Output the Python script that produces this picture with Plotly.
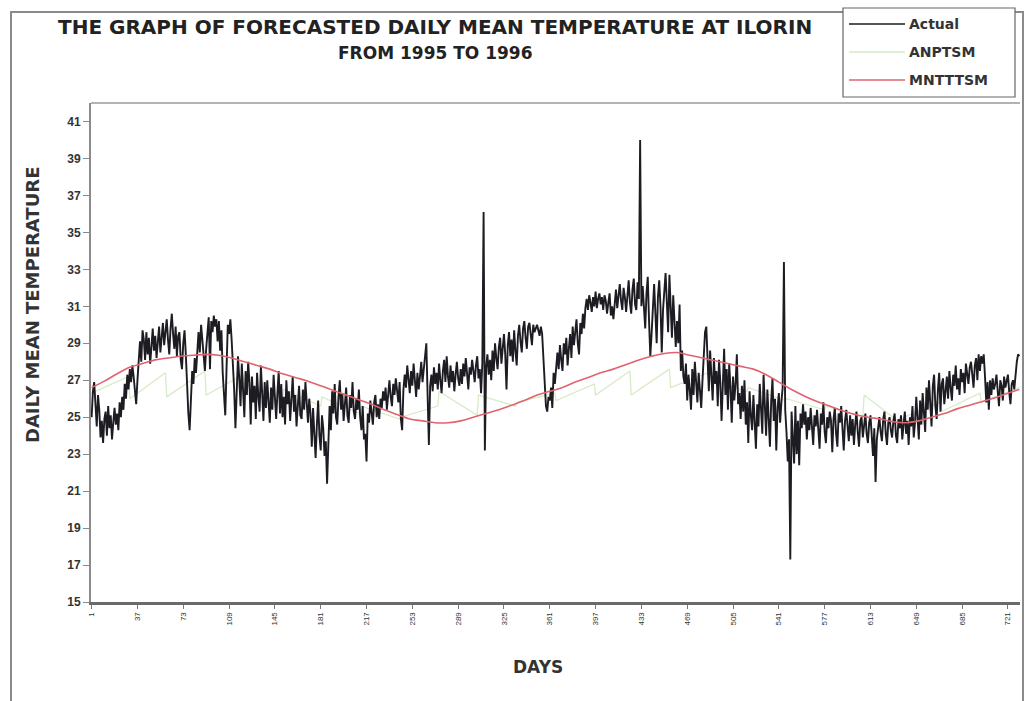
import plotly.graph_objects as go

# Observed daily mean temperature at Ilorin, days 1..730 (1995-1996)
actual = [
    25.0, 26.4, 26.9, 25.8, 24.5, 26.2, 25.4, 23.9, 24.8, 23.6,
    24.9, 25.3, 24.0, 25.6, 24.4, 25.1, 23.8, 24.7, 25.5, 24.6,
    25.2, 24.3, 25.8, 25.0, 26.1, 25.4, 26.8, 26.0, 27.3, 26.5,
    27.6, 26.9, 27.8, 27.2, 26.4, 25.7, 27.0, 28.3, 29.1, 28.0,
    29.7, 29.2, 28.1, 29.6, 28.4, 29.3, 27.9, 28.8, 29.8, 28.6,
    29.4, 28.2, 29.0, 29.9, 28.5, 29.6, 30.1, 28.9, 29.5, 30.3,
    29.2, 28.4, 29.8, 30.6, 29.5, 28.7, 29.9, 28.3, 29.4, 29.6,
    28.1, 27.6, 29.0, 29.7, 28.4, 26.5, 25.2, 24.3, 26.0, 27.5,
    26.8, 28.2, 27.4, 28.9, 29.6, 28.5, 30.0, 29.2, 28.0, 27.5,
    28.7, 29.8, 30.4, 27.6, 30.2, 29.6, 30.5, 29.9, 30.3, 29.1,
    30.2, 28.6, 29.7, 27.4, 25.8, 25.1, 27.6, 30.0, 29.5, 30.3,
    29.2, 28.0, 26.5, 24.4, 26.8, 28.3, 27.1, 25.6, 27.9, 26.4,
    25.0, 27.5, 26.2, 28.0, 26.9, 24.6, 27.2, 25.8, 26.7, 24.9,
    27.4, 26.1, 25.3, 27.8, 26.5, 24.8, 26.9, 25.5, 27.0, 26.0,
    24.7, 26.6, 25.4, 27.3, 25.9, 24.9, 26.3, 27.5, 25.2, 26.8,
    25.0, 26.1, 24.6, 27.0, 25.7, 26.4, 24.8, 25.9, 27.2, 25.3,
    26.2, 24.5, 25.8, 26.7, 25.1, 24.9, 26.5, 25.4, 26.9, 25.6,
    24.7, 26.0, 25.2, 23.4, 25.5, 24.1, 22.8, 24.6, 25.9, 24.0,
    23.2, 25.1, 24.4, 22.9, 23.7, 21.4, 23.5, 25.6, 24.3, 26.4,
    25.2, 26.8, 25.0, 24.6, 26.1, 27.0, 25.4, 26.3, 24.8, 25.7,
    26.6, 25.1, 24.7, 26.2, 25.5, 26.9, 25.3, 24.9, 26.0, 25.4,
    26.5, 25.0, 24.3, 25.6, 23.8, 24.1, 22.6, 25.2, 24.7, 25.9,
    25.3, 24.6, 25.8, 26.2, 25.0, 25.7, 24.9, 26.0, 25.5, 26.4,
    25.9, 26.6, 25.4, 26.3, 27.0, 26.1, 25.6, 26.8, 26.2, 27.1,
    26.4, 25.8, 26.9, 24.9, 24.3, 26.5, 27.3, 26.6, 27.8, 26.9,
    26.3, 27.5, 26.7, 27.9, 26.8, 26.1, 27.4, 26.5, 27.2, 28.0,
    26.9, 27.6, 28.4, 29.0, 26.2, 23.5, 26.7, 27.3, 26.4, 27.7,
    26.8, 27.4, 26.5, 27.9, 27.0, 26.3, 27.5, 28.1, 26.9, 28.3,
    27.2, 26.6, 27.8, 26.9, 27.5, 26.4, 27.3, 28.0, 27.1, 26.7,
    27.6, 26.8, 27.9, 27.2, 28.2, 27.0, 26.5, 27.7, 27.3, 28.1,
    27.4, 26.9, 27.8, 28.3, 27.1, 27.6, 26.3, 27.9, 36.1, 23.2,
    27.7, 28.4, 27.3, 28.1, 27.0, 28.6, 27.5, 29.0, 28.2, 27.6,
    28.8, 29.3, 27.9, 28.7, 29.5, 28.4, 26.5, 28.9, 29.6, 28.3,
    29.2, 28.0, 29.7, 28.6, 27.8, 29.4, 30.0, 29.1, 28.5, 29.8,
    30.2, 29.3, 28.7, 29.9, 30.1, 29.5, 28.9, 30.0, 29.6, 29.8,
    30.0, 29.7, 29.4, 29.9, 29.5, 28.2, 26.7, 25.6, 25.3, 26.1,
    25.9, 26.6, 25.5, 27.4, 26.8, 27.9, 28.5, 27.6, 28.9, 28.1,
    27.5, 29.0, 28.4, 29.3, 27.8, 28.7, 29.5, 28.2, 29.9, 28.9,
    29.6, 30.3, 29.0, 28.4, 30.1, 29.5, 30.6, 29.8, 30.9, 31.4,
    30.8, 31.6, 31.2, 30.7, 31.5, 31.0, 31.8, 30.9, 31.4, 31.7,
    31.1, 31.5, 30.8, 31.6, 31.3, 30.6, 31.2, 31.7, 30.5, 31.0,
    30.3, 31.4, 31.9, 30.9, 31.6, 32.2, 31.3, 30.8, 32.0, 31.5,
    30.7, 31.8, 32.4, 31.2, 30.6, 31.9, 32.5, 31.1, 30.8, 32.3,
    31.4, 40.0, 31.0, 32.1, 30.5, 29.8, 31.7, 32.6, 30.2, 28.3,
    29.5, 31.3, 32.2, 30.6, 29.0, 31.5, 32.4, 31.0, 28.5, 30.8,
    32.0, 32.8, 31.2, 29.6, 32.7, 30.9, 29.3, 31.6, 30.4, 28.8,
    30.2, 29.0, 31.1, 27.5, 28.6, 27.2, 26.8, 27.9, 25.9, 27.3,
    26.5, 25.4, 27.6, 26.2, 28.0, 26.7, 25.8, 27.4, 26.1, 25.5,
    27.0, 28.3, 29.6, 29.9, 27.8, 26.4, 28.6, 27.1, 25.9, 28.2,
    26.8, 27.5, 25.6, 28.1, 26.9, 24.8, 27.3, 28.7, 26.2, 27.6,
    25.4, 27.9, 26.6, 24.7, 27.2, 25.9, 26.8, 28.4, 25.7, 26.3,
    24.9, 26.7, 25.3, 27.0, 24.6, 25.8, 23.6, 26.4, 25.1, 24.3,
    26.2, 25.0, 23.3, 25.7, 24.5, 26.8, 25.4, 24.1, 27.3, 25.6,
    24.0, 26.5, 25.2, 23.4, 25.9, 27.1, 24.8, 26.0, 23.2, 25.5,
    26.3, 24.7, 25.8, 26.6, 33.4, 25.4, 24.2, 22.6, 23.8, 17.3,
    25.3, 24.1, 22.5, 25.6, 23.0, 24.8, 22.4, 25.2, 24.4, 25.7,
    24.6, 25.3, 23.8, 25.0, 24.3, 25.5, 24.7, 23.5, 25.1, 24.5,
    25.4, 24.0, 23.3, 25.2, 24.6, 25.8, 24.2, 23.6, 25.0, 24.4,
    25.3, 24.8, 23.1, 24.9, 25.5, 24.1, 23.4, 25.2, 24.7, 25.6,
    24.3, 23.2, 24.8, 25.4, 24.5, 23.7, 25.1, 24.0, 24.9, 23.5,
    24.6, 25.3, 24.2, 23.4, 24.8, 25.0, 23.9, 24.5, 25.2, 24.1,
    23.6, 24.7, 25.1, 24.0, 22.9, 24.4, 21.5, 23.8, 24.6, 25.0,
    24.2, 23.7, 24.9, 25.3, 24.1, 23.5, 24.7, 25.0, 24.3, 23.9,
    24.8, 25.2, 24.0, 23.6, 24.9, 24.4, 25.1, 23.8, 24.6, 25.3,
    24.1, 24.8, 23.5, 25.0, 24.5, 25.6, 23.9, 24.7, 26.1, 25.2,
    23.8, 25.9, 24.6, 26.3, 25.0, 24.2, 26.6, 25.4, 27.0, 25.8,
    24.5, 26.7, 27.3, 25.6, 24.9, 26.5, 27.4, 25.3, 26.8, 27.1,
    25.7, 26.4, 27.2, 26.0, 27.5, 26.6, 25.9, 27.3, 26.7, 27.8,
    26.5, 27.1, 26.2, 27.6, 26.9, 27.4, 26.3, 27.9, 27.2, 26.8,
    27.7, 28.0, 27.3, 26.6, 27.8, 28.2, 27.0, 28.4, 27.5, 28.3,
    27.9, 28.4, 27.2, 25.8, 26.9, 25.4, 27.0, 26.2, 27.1, 26.5,
    26.8, 27.3, 26.4, 25.6, 27.0, 26.7, 25.9, 27.2, 26.6, 26.9,
    27.3, 26.4, 25.7, 26.8, 27.0, 26.5, 27.4, 28.0, 28.4, 28.3,
]
days = list(range(1, len(actual) + 1))

# MNTTTSM forecast, sampled every 10 days
mnt_days = list(range(1, 722, 10)) + [730]
mnt_vals = [
    26.6, 26.95, 27.35, 27.7, 27.9, 28.1, 28.2, 28.3, 28.35, 28.4,
    28.35, 28.2, 28.0, 27.8, 27.6, 27.35, 27.15, 26.95, 26.7, 26.45,
    26.2, 25.95, 25.7, 25.4, 25.15, 24.9, 24.8, 24.7, 24.7, 24.8,
    25.0, 25.2, 25.4, 25.65, 25.9, 26.2, 26.4, 26.6, 26.9, 27.15,
    27.4, 27.6, 27.85, 28.1, 28.3, 28.45, 28.5, 28.35, 28.2, 28.05,
    27.9, 27.75, 27.6, 27.3, 26.9, 26.5, 26.15, 25.85, 25.6, 25.35,
    25.15, 25.0, 24.9, 24.75, 24.7, 24.8, 25.0, 25.2, 25.45, 25.65,
    25.85, 26.05, 26.3, 26.5,
]

# ANPTSM forecast: monthly segments (start day, end day, start value, end value)
anp_start_day = [1, 31, 60, 91, 121, 152, 182, 213, 244, 274, 305, 335,
                 366, 397, 425, 456, 486, 517, 547, 578, 608, 639, 669, 700]
anp_end_day = [30, 59, 90, 120, 151, 181, 212, 243, 273, 304, 334, 365,
               396, 424, 455, 485, 516, 546, 577, 607, 638, 668, 699, 730]
anp_start_val = [26.3, 26.0, 26.1, 26.2, 26.8, 26.5, 26.1, 25.6, 25.0, 26.4, 26.2, 25.8,
                 25.9, 26.2, 26.2, 26.6, 27.0, 26.6, 26.0, 25.6, 26.2, 25.0, 25.3, 25.8]
anp_end_val = [27.2, 27.4, 27.5, 27.3, 26.0, 25.6, 25.2, 24.9, 25.6, 25.1, 25.6, 26.3,
               26.8, 27.5, 27.6, 27.4, 26.4, 25.9, 25.4, 25.0, 24.6, 25.8, 26.3, 26.6]

tick_days = list(range(1, 722, 36))
tick_text = [str(d) for d in tick_days]
y_ticks = list(range(15, 42, 2))

anp_x, anp_y = [], []
for d0, d1, v0, v1 in zip(anp_start_day, anp_end_day, anp_start_val, anp_end_val):
    anp_x += [d0, d1]
    anp_y += [v0, v1]

# Plot-area geometry in pixels, used to place frame, title and legend box
W, H = 1028, 701
L, R, T, B = 91, 1020, 103, 602


def px(x):
    return (x - L) / (R - L)


def py(y):
    return (B - y) / (B - T)


RED = "#e06470"
GREEN = "#d6ebc8"
BLACK = "#1c1c22"

fig = go.Figure()
fig.add_trace(go.Scatter(x=anp_x, y=anp_y, mode="lines", name="ANPTSM",
                         line=dict(color=GREEN, width=1.3)))
fig.add_trace(go.Scatter(x=days, y=actual, mode="lines", name="Actual",
                         line=dict(color=BLACK, width=1.9)))
fig.add_trace(go.Scatter(x=mnt_days, y=mnt_vals, mode="lines", name="MNTTTSM",
                         line=dict(color=RED, width=1.6, shape="spline")))

shapes = [
    # outer chart frame
    dict(type="rect", xref="paper", yref="paper",
         x0=px(11), x1=px(1023), y0=py(715), y1=py(12),
         line=dict(color="#8a8a8a", width=2)),
    # top edge of the plot area
    dict(type="line", xref="paper", yref="paper",
         x0=0, x1=1, y0=1, y1=1, line=dict(color="#9a9a9a", width=1.5)),
    # legend box
    dict(type="rect", xref="paper", yref="paper",
         x0=px(843), x1=px(1015), y0=py(97), y1=py(8),
         line=dict(color="#666666", width=1.2), fillcolor="white"),
]

legend_items = [("Actual", BLACK, 24), ("ANPTSM", GREEN, 52), ("MNTTTSM", RED, 80)]
annotations = []
for name, color, ypix in legend_items:
    shapes.append(dict(type="line", xref="paper", yref="paper",
                       x0=px(849), x1=px(905), y0=py(ypix), y1=py(ypix),
                       line=dict(color=color, width=1.5)))
    annotations.append(dict(text=f"<b>{name}</b>", xref="paper", yref="paper",
                            x=px(907), y=py(ypix), xanchor="left", yanchor="middle",
                            showarrow=False,
                            font=dict(family="DejaVu Sans", size=14, color="#333333")))

title_font = dict(family="DejaVu Sans", size=20, color="#222222")
annotations += [
    dict(text="<b>THE GRAPH OF FORECASTED DAILY MEAN TEMPERATURE AT ILORIN</b>",
         xref="paper", yref="paper", x=px(435), y=py(27),
         xanchor="center", yanchor="middle", showarrow=False, font=title_font),
    dict(text="<b>FROM 1995 TO 1996</b>",
         xref="paper", yref="paper", x=px(435), y=py(53),
         xanchor="center", yanchor="middle", showarrow=False,
         font=dict(family="DejaVu Sans", size=17, color="#222222")),
    dict(text="<b>DAILY MEAN TEMPERATURE</b>",
         xref="paper", yref="paper", x=px(32), y=py(305), textangle=-90,
         xanchor="center", yanchor="middle", showarrow=False,
         font=dict(family="DejaVu Sans", size=18, color="#333333")),
    dict(text="<b>DAYS</b>",
         xref="paper", yref="paper", x=px(538), y=py(667),
         xanchor="center", yanchor="middle", showarrow=False,
         font=dict(family="DejaVu Sans", size=17, color="#333333")),
]

fig.update_layout(
    width=W, height=H,
    margin=dict(l=L, r=W - R, t=T, b=H - B),
    paper_bgcolor="white", plot_bgcolor="white",
    showlegend=False,
    shapes=shapes,
    annotations=annotations,
    xaxis=dict(range=[0.5, 730.5], tickmode="array", tickvals=tick_days, ticktext=tick_text,
               tickangle=-90, tickfont=dict(family="Liberation Sans", size=8, color="#333333"),
               showline=True, linecolor="#6a6a6a", linewidth=3,
               ticks="outside", ticklen=4, tickcolor="#777777",
               showgrid=False, zeroline=False),
    yaxis=dict(range=[15, 42], tickmode="array", tickvals=y_ticks,
               ticktext=[f"<b>{v}</b>" for v in y_ticks],
               tickfont=dict(family="Liberation Sans", size=12, color="#333333"),
               showline=True, linecolor="#8a8a8a", linewidth=2,
               ticks="outside", ticklen=6, tickcolor="#8a8a8a",
               showgrid=False, zeroline=False),
)

fig.write_html("out.html")
